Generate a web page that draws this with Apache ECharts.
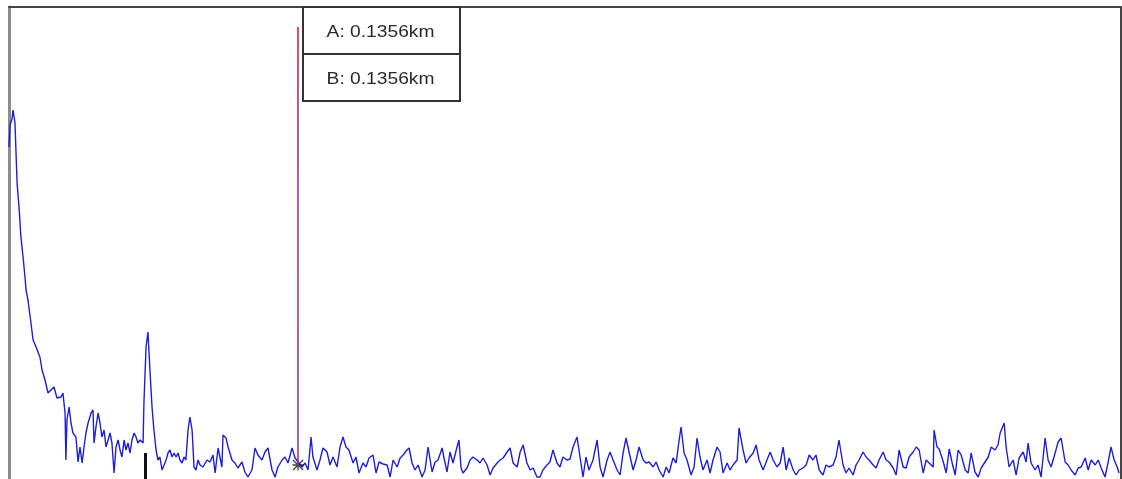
<!DOCTYPE html>
<html><head><meta charset="utf-8">
<script src="https://cdn.jsdelivr.net/npm/echarts@6/dist/echarts.min.js"></script>
<style>html,body{margin:0;padding:0;background:#fff;overflow:hidden}#c{width:1122px;height:479px}</style>
</head><body><div id="c"></div>
<script>
// distance along the fibre (metres)
const distanceM = [
0.0,0.5,1.4,1.9,2.8,3.3,3.8,4.7,5.6,6.6,7.5,8.0,8.9,10.3,11.3,12.7,14.5,15.5,16.9,18.3,
19.7,21.1,22.5,24.4,25.3,26.3,26.7,27.2,28.2,29.1,30.0,31.4,32.4,33.3,34.3,35.2,36.1,37.1,38.5,39.4,
39.9,40.8,41.8,42.7,43.6,44.6,45.5,46.5,47.4,48.3,49.3,50.2,51.2,52.1,53.0,54.0,54.9,55.8,56.8,57.7,
58.7,59.6,60.5,61.5,62.9,63.3,64.3,65.2,66.2,67.1,68.0,69.0,69.9,70.8,71.8,72.7,73.7,74.6,75.5,76.5,
77.4,78.4,79.3,80.2,81.2,82.1,83.0,84.0,84.9,85.9,86.8,87.7,88.7,
89.6,91.0,92.9,94.3,95.7,96.7,98.1,99.9,100.4,101.8,102.8,104.6,106.0,107.4,109.3,110.7,112.1,114.0,115.4,116.8,
118.7,120.1,121.5,123.4,124.8,126.2,128.1,129.5,130.9,132.8,134.2,135.6,137.5,138.9,140.3,141.7,142.6,144.5,145.9,147.3,
149.2,150.6,152.0,153.9,155.3,156.7,158.1,159.5,161.4,162.8,164.2,166.1,167.5,168.9,170.8,172.2,173.6,175.5,177.4,178.8,
180.2,182.1,183.5,184.9,186.7,187.7,189.1,190.5,191.9,193.8,195.2,196.6,198.5,199.9,201.3,203.2,204.1,205.5,206.9,208.3,
210.2,211.1,212.1,213.0,214.9,216.3,217.7,219.6,221.0,222.4,224.3,225.7,227.1,229.0,230.4,231.8,233.7,235.1,236.5,238.4,
239.8,241.2,243.0,244.5,245.9,247.7,249.1,250.5,252.4,253.8,255.2,257.1,258.5,259.9,261.8,263.2,264.6,266.5,267.9,269.3,
270.7,272.1,274.0,275.9,277.3,278.7,280.6,282.0,283.4,285.3,286.7,288.1,289.5,290.9,292.8,294.2,295.6,297.5,298.9,300.3,
302.2,303.6,305.0,306.9,308.3,309.7,311.5,313.0,314.4,315.3,316.7,318.1,320.0,321.4,322.8,324.2,325.6,327.5,328.9,330.3,
332.2,333.6,335.0,336.9,338.3,339.7,341.6,342.5,344.4,345.8,347.2,349.1,350.5,351.9,353.8,355.6,357.1,358.5,360.3,361.8,
363.2,364.6,366.0,367.9,369.3,370.7,372.5,374.0,375.4,377.2,378.6,380.1,381.9,383.3,384.7,386.6,388.0,389.4,391.3,392.7,
394.1,396.0,397.4,398.8,400.7,402.1,403.5,405.4,406.8,408.2,410.1,411.5,412.9,414.8,416.2,417.6,419.5,420.9,422.3,424.2,
425.6,427.0,428.9,430.3,431.7,433.6,434.0,435.4,436.4,438.2,439.7,441.1,442.5,443.9,445.3,446.7,448.6,450.0,451.4,453.2,
454.7,456.1,457.9,459.4,460.8,462.6,464.0,465.0,466.9,467.8,469.2,471.1,472.5,473.9,475.8,477.2,478.1,479.5,481.4,482.8,
484.2,486.1,487.5,488.9,490.8,492.2,493.6,495.5,496.9,498.3,500.2,501.6,503.0,504.9,506.3,507.7,509.6,511.0,512.4,514.2,
515.6,517.0,518.5,519.9,520.8
];
// backscatter level (display units)
const level = [
332,354,360,369,356,326,296,272,242,222,202,189,179,156,139,132,122,109,99,86,
89,92,81,82,86,66,19,59,72,56,46,42,17,32,16,32,46,56,66,69,
36,52,66,56,42,49,32,39,46,36,6,32,39,29,22,39,29,36,26,39,
46,42,36,39,36,76,132,147,106,72,49,29,19,22,9,7,19,26,29,22,
26,22,26,19,16,22,19,49,62,49,12,9,19,
14,12,19,17,24,6,31,12,44,41,32,19,16,11,17,7,2,9,31,24,
19,27,31,9,2,12,19,22,16,31,21,17,12,16,9,42,22,9,19,31,
27,14,22,12,32,42,32,29,16,22,6,16,12,21,24,6,17,15,14,2,
19,12,21,24,29,31,16,9,14,2,9,32,7,17,19,31,21,7,27,16,
32,39,11,6,11,19,22,19,16,21,14,4,11,16,19,21,27,31,16,12,
27,34,16,9,11,2,2,9,14,17,29,16,12,22,19,20,32,42,22,2,
22,9,19,39,12,2,19,27,19,9,4,26,41,27,9,19,32,19,16,17,
12,17,9,2,12,6,21,16,39,52,26,19,4,12,41,22,9,19,6,19,
32,27,6,16,9,14,19,51,29,16,21,26,34,19,9,19,27,19,12,16,
32,9,21,9,4,9,11,14,24,19,24,9,4,14,12,14,22,39,14,6,
11,4,14,19,27,22,19,14,11,19,27,19,17,11,4,29,12,11,22,27,
32,29,6,19,16,12,49,32,30,18,6,30,16,4,29,24,9,6,26,7,
2,11,17,22,32,29,34,46,56,32,12,19,4,21,27,17,36,16,9,14,
2,41,19,12,26,37,41,17,14,9,4,11,12,21,9,19,14,19,11,2,
16,32,19,12,6
];
const xMaxM = 521.7;
const yMaxLevel = 472;
const cursorA_m = 135.6;          // cursor A / B position
const cursorTopLevel = 452;
const cursorBottomLevel = 14;
const eventMark_m = 63.8;         // small event marker
const eventMarkTop = 26;
const cursorLabels = ['A: 0.1356km', 'B: 0.1356km'];

const chart = echarts.init(document.getElementById('c'), null, {renderer: 'canvas'});
const trace = distanceM.map((d, i) => [d, level[i]]);
const hidden = {axisTick: {show: false}, axisLabel: {show: false}, splitLine: {show: false}};

chart.setOption({
  animation: false,
  backgroundColor: '#fff',
  grid: {left: 9, right: 1, top: 7, bottom: 0},
  xAxis: Object.assign({type: 'value', min: 0, max: xMaxM, position: 'top',
    axisLine: {show: true, onZero: false, lineStyle: {color: '#444', width: 2}}}, hidden),
  yAxis: [
    Object.assign({type: 'value', min: 0, max: yMaxLevel, position: 'left',
      axisLine: {show: true, onZero: false, lineStyle: {color: '#8c8c8c', width: 3}}}, hidden),
    Object.assign({type: 'value', min: 0, max: yMaxLevel, position: 'right',
      axisLine: {show: true, onZero: false, lineStyle: {color: '#444', width: 2}}}, hidden)
  ],
  series: [
    {
      type: 'line', data: trace, symbol: 'none', silent: true, z: 2,
      lineStyle: {color: '#1e1ed8', width: 1.4},
      markLine: {
        silent: true, symbol: ['none', 'none'], label: {show: false}, animation: false,
        data: [
          [{coord: [cursorA_m, cursorTopLevel], lineStyle: {type: 'solid', width: 1.6,
              color: new echarts.graphic.LinearGradient(0, 0, 0, 1, [
                {offset: 0, color: '#e8203c'}, {offset: 0.18, color: '#b42a7c'}, {offset: 1, color: '#9a3aa2'}])}},
           {coord: [cursorA_m, cursorBottomLevel]}],
          [{coord: [eventMark_m, eventMarkTop], lineStyle: {type: 'solid', width: 3, color: '#111'}},
           {coord: [eventMark_m, 0]}]
        ]
      }
    },
    {
      type: 'scatter', silent: true, z: 3,
      data: [[cursorA_m, cursorBottomLevel]],
      symbol: 'path://M0,4.4H10V5.6H0ZM4.4,0H5.6V10H4.4ZM0.8,0L10,9.2L9.2,10L0,0.8ZM9.2,0L10,0.8L0.8,10L0,9.2Z',
      symbolSize: 11, itemStyle: {color: '#111'}
    }
  ]
});

const cx = chart.convertToPixel({xAxisIndex: 0}, cursorA_m);
const topY = chart.convertToPixel({yAxisIndex: 0}, yMaxLevel);
const bx = Math.round(cx) + 5, bw = 157, bh = 47;
const boxes = [];
cursorLabels.forEach((t, i) => {
  const by = Math.round(topY) + i * bh;
  boxes.push({type: 'rect', z: 100, shape: {x: bx, y: by, width: bw, height: bh},
    style: {fill: '#fff', stroke: '#333', lineWidth: 2}});
  boxes.push({type: 'text', z: 101, x: bx + bw / 2 - 1, y: by + bh / 2 + 2, scaleX: 1.2,
    style: {text: t, font: '16px "Liberation Sans", Arial, sans-serif', fill: '#2a2a2a',
      align: 'center', verticalAlign: 'middle'}});
});
chart.setOption({graphic: boxes});
</script>
</body></html>
